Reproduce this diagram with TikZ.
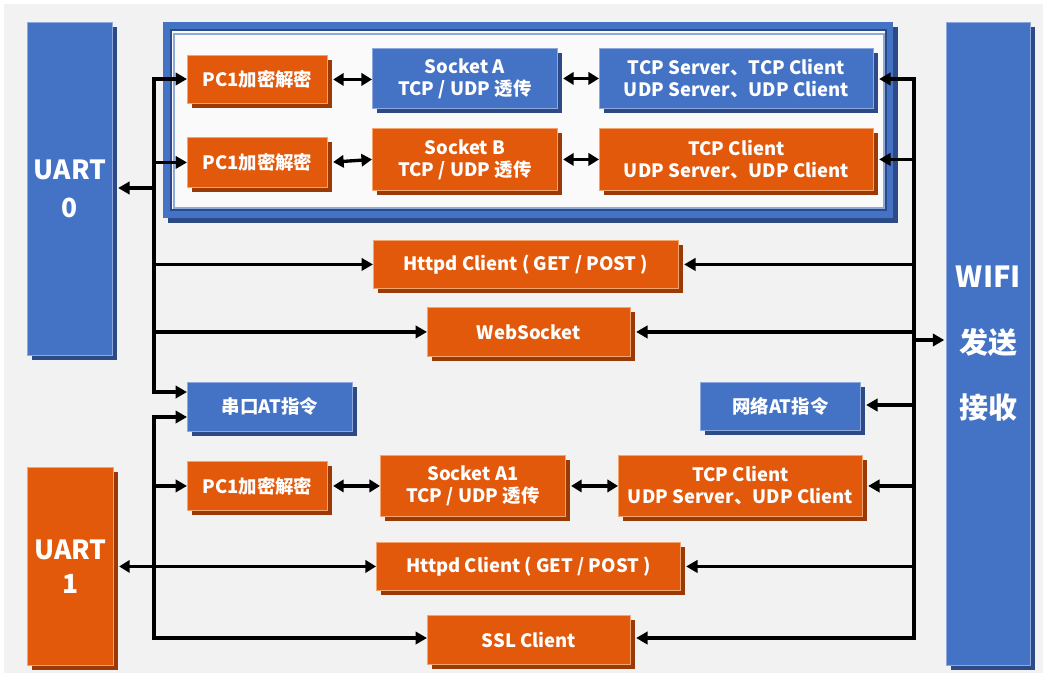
\documentclass[tikz,border=0pt]{standalone}
\usepackage{fontspec}
\setmainfont{Noto Sans CJK SC}
\usepackage{tikz}
\usetikzlibrary{positioning,calc,arrows.meta,shadows}
\definecolor{boxblue}{HTML}{4472C4}
\definecolor{boxblueD}{HTML}{2B4A86}
\definecolor{boxblueL}{HTML}{8EAADC}
\definecolor{boxorange}{HTML}{E2590B}
\definecolor{boxorangeD}{HTML}{9A3A06}
\definecolor{boxorangeL}{HTML}{F4A46E}
\definecolor{bggray}{HTML}{F2F2F2}
\tikzset{>=stealth,
  box/.style={inner sep=0pt,anchor=north west,text=white,align=center,line width=0.5pt,
    font=\bfseries\fontsize{10.5}{12.5}\selectfont},
  bbox/.style={box,fill=boxblue,draw=boxblueL,
    drop shadow={shadow xshift=2.8pt,shadow yshift=-2.8pt,fill=boxblueD,opacity=1}},
  obox/.style={box,fill=boxorange,draw=boxorangeL,
    drop shadow={shadow xshift=2.8pt,shadow yshift=-2.8pt,fill=boxorangeD,opacity=1}},
  arr/.style={line width=1.9pt,-{Triangle[length=6.5pt,width=7pt]}},
  darr/.style={line width=1.9pt,{Triangle[length=6pt,width=7pt]}-{Triangle[length=6pt,width=7pt]}},
  bus/.style={line width=1.9pt,line cap=rect}}

\begin{document}
\begin{tikzpicture}[x=0.02cm,y=-0.02cm]
\useasboundingbox (0,0) rectangle (1047,677);
\fill[white] (0,0) rectangle (1047,677);
\fill[bggray] (4,4) rectangle (1043,673);

% the two uarts and wifi
\node[bbox,minimum width=1.7cm,minimum height=6.66cm,font=\bfseries\fontsize{15}{21.5}\selectfont] (uart0) at (27,22) {UART\\0};
\node[obox,minimum width=1.72cm,minimum height=3.96cm,font=\bfseries\fontsize{15}{19.5}\selectfont] (uart1) at (27,467) {UART\\1};
\node[bbox,minimum width=1.68cm,minimum height=12.86cm,font=\bfseries\fontsize{16.5}{37.4}\selectfont] (wifi) at (946,22) {WIFI\\发送\\接收};

% socket frame
\node[bbox,draw=none,minimum width=14.6cm,minimum height=3.92cm] (frame) at (163,22) {};
\draw[boxblueD,line width=1.2pt,fill=white!60!bggray] (171,30) rectangle (886,210);
\draw[boxblueL,line width=0.6pt] (174,34) rectangle (884,208);

% top frame, row A
\node[obox,minimum width=2.8cm,minimum height=0.96cm] (pcA) at (187,55) {PC1加密解密};
\node[bbox,minimum width=3.7cm,minimum height=1.2cm] (sockA) at (372,48) {Socket A\\TCP / UDP 透传};
\node[bbox,minimum width=5.48cm,minimum height=1.2cm] (tcpA) at (599,48) {TCP Server、TCP Client\\UDP Server、UDP Client};
% row B
\node[obox,minimum width=2.8cm,minimum height=1.0cm] (pcB) at (187,137) {PC1加密解密};
\node[obox,minimum width=3.7cm,minimum height=1.24cm] (sockB) at (372,128) {Socket B\\TCP / UDP 透传};
\node[obox,minimum width=5.48cm,minimum height=1.24cm] (tcpB) at (599,128) {TCP Client\\UDP Server、UDP Client};

% middle
\node[obox,minimum width=6.1cm,minimum height=0.96cm] (httpA) at (373,240) {Httpd Client ( GET / POST )};
\node[obox,minimum width=4.06cm,minimum height=0.98cm] (websock) at (427,307) {WebSocket};
\node[bbox,minimum width=3.3cm,minimum height=0.98cm] (atser) at (187,382) {串口AT指令};
\node[bbox,minimum width=3.2cm,minimum height=0.96cm] (atnet) at (700,382) {网络AT指令};

% bottom
\node[obox,minimum width=2.8cm,minimum height=0.98cm] (pcC) at (187,461) {PC1加密解密};
\node[obox,minimum width=3.7cm,minimum height=1.22cm] (sockC) at (380,455) {Socket A1\\TCP / UDP 透传};
\node[obox,minimum width=4.88cm,minimum height=1.22cm] (tcpC) at (618,455) {TCP Client\\UDP Server、UDP Client};
\node[obox,minimum width=6.08cm,minimum height=0.96cm] (httpB) at (376,542) {Httpd Client ( GET / POST )};
\node[obox,minimum width=4.06cm,minimum height=0.98cm] (ssl) at (427,615) {SSL Client};

% left buses
\coordinate (la) at (154,79);
\coordinate (lu) at (154,188);
\coordinate (ls) at (154,392);
\coordinate (lt) at (154,417);
\coordinate (lb) at (154,638);
\draw[bus] (la) -- (ls);
\draw[bus] (lt) -- (lb);
\draw[arr] (la) -- (la -| pcA.west);
\draw[arr] (pcB.west -| la) -- (pcB.west);
\draw[arr,shorten >=3pt] (lu) -- (lu -| uart0.east);
\draw[arr] (httpA.west -| la) -- (httpA.west);
\draw[arr] (websock.west -| la) -- (websock.west);
\draw[arr] (ls) -- (ls -| atser.west);
\draw[arr] (lt) -- (lt -| atser.west);
\draw[arr] (pcC.west -| la) -- (pcC.west);
\draw[darr,shorten <=3pt] (uart1.east) -- (uart1.east -| httpB.west);
\draw[arr] (lb) -- (lb -| ssl.west);

% socket pairs
\draw[darr,shorten <=3pt] (pcA.east) -- (pcA.east -| sockA.west);
\draw[darr,shorten <=3pt] (sockA.east) -- (tcpA.west);
\draw[darr,shorten <=3pt] (pcB.east) -- (sockB.west);
\draw[darr,shorten <=3pt] (sockB.east) -- (tcpB.west);
\draw[darr,shorten <=3pt] (pcC.east) -- (pcC.east -| sockC.west);
\draw[darr,shorten <=3pt] (sockC.east) -- (tcpC.west);

% right bus
\coordinate (ra) at (914,79);
\coordinate (rw) at (914,340);
\coordinate (rn) at (914,405);
\coordinate (rb) at (914,638);
\draw[bus] (ra) -- (rb);
\draw[arr,shorten >=3pt] (ra) -- (ra -| tcpA.east);
\draw[arr,shorten >=3pt] (tcpB.east -| ra) -- (tcpB.east);
\draw[arr,shorten >=3pt] (httpA.east -| ra) -- (httpA.east);
\draw[arr,shorten >=3pt] (websock.east -| ra) -- (websock.east);
\draw[arr,shorten >=3pt] (rn) -- (rn -| atnet.east);
\draw[arr,shorten >=3pt] (tcpC.east -| ra) -- (tcpC.east);
\draw[arr,shorten >=3pt] (httpB.east -| ra) -- (httpB.east);
\draw[arr,shorten >=3pt] (rb) -- (rb -| ssl.east);
\draw[arr,shorten >=1pt] (rw) -- (rw -| wifi.west);
\end{tikzpicture}
\end{document}
